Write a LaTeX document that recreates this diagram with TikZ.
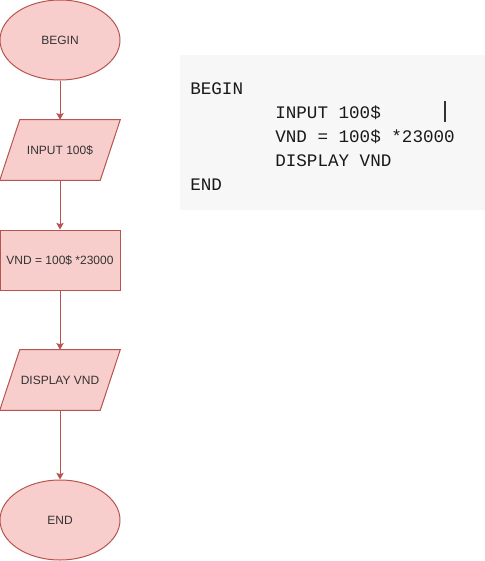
\documentclass[tikz,border=0pt]{standalone}
\usepackage{fontspec}
\setmainfont{Liberation Sans}
\setmonofont{Liberation Mono}
\usetikzlibrary{arrows.meta,shapes.geometric,backgrounds}
\definecolor{boxfill}{HTML}{F8CECC}
\definecolor{boxline}{HTML}{B85450}
\definecolor{codebg}{HTML}{F7F7F7}

\begin{document}
\begin{tikzpicture}[x=0.75pt,y=-0.75pt,>={Stealth[length=5pt,width=5.5pt,inset=1pt]},
  every node/.style={font=\fontsize{9}{11}\selectfont,text=black!80},
  term/.style={ellipse,draw=boxline,fill=boxfill,line width=0.75pt,minimum width=90pt,minimum height=60pt,inner sep=0pt},
  io/.style={rectangle,minimum width=75pt,minimum height=45pt,inner sep=0pt},
  proc/.style={rectangle,draw=boxline,fill=boxfill,line width=0.75pt,minimum width=90pt,minimum height=45pt,inner sep=0pt},
  flow/.style={->,draw=boxline,line width=0.75pt},
  codeline/.style={anchor=base west,inner sep=0pt,font=\ttfamily\fontsize{13.2}{16}\selectfont,text=black!90}]
  \useasboundingbox (0,0) rectangle (485,561);

  % flowchart
  \node[term] (begin) at (60,40) {BEGIN};
  \node[io] (input) at (60,150) {INPUT 100\$};
  \node[proc] (vnd) at (60,260) {VND = 100\$ *23000};
  \node[io] (display) at (60,380) {DISPLAY VND};
  \node[term] (end) at (60,520) {END};
  \begin{scope}[on background layer]
    \foreach \n in {input,display}
      \filldraw[draw=boxline,fill=boxfill,line width=0.75pt] ([xshift=-7.5pt]\n.south west) -- ([xshift=-7.5pt]\n.south east)
        -- ([xshift=7.5pt]\n.north east) -- ([xshift=7.5pt]\n.north west) -- cycle;
  \end{scope}
  \foreach \a/\b in {begin/input,input/vnd,vnd/display,display/end}
    \draw[flow] (\a) -- (\b);

  % pseudo code
  \fill[codebg] (180,55) rectangle (485,210);
  \foreach \x/\y/\txt/\name in {
    190/94/BEGIN/cbegin,
    275/118/INPUT 100\$/cinput,
    275/142/VND = 100\$ *23000/cvnd,
    275/166/DISPLAY VND/cdisplay,
    190/190/END/cend
  }{
    \node[codeline] (\name) at (\x,\y) {\txt};
  }
  \draw[black!80,line width=0.8pt] (445,101) -- (445,122);
\end{tikzpicture}
\end{document}
